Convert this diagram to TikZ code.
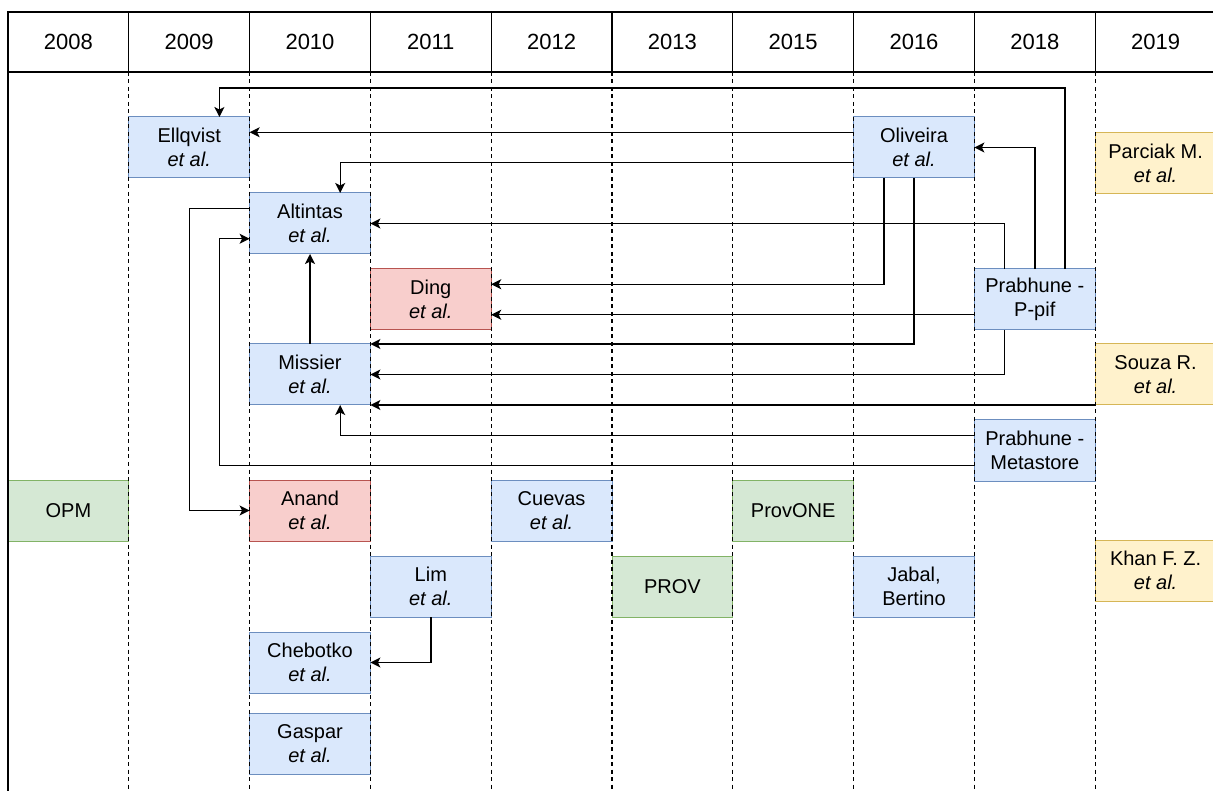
\documentclass[tikz,border=0pt]{standalone}
\usepackage{fontspec}
\setmainfont{Liberation Sans}
\usetikzlibrary{arrows.meta}

\definecolor{blueFill}{HTML}{DAE8FC}
\definecolor{blueLine}{HTML}{6C8EBF}
\definecolor{redFill}{HTML}{F8CECC}
\definecolor{redLine}{HTML}{B85450}
\definecolor{greenFill}{HTML}{D5E8D4}
\definecolor{greenLine}{HTML}{82B366}
\definecolor{yellowFill}{HTML}{FFF2CC}
\definecolor{yellowLine}{HTML}{D6B656}

\begin{document}
\begin{tikzpicture}
[
    x=1pt, y=-1pt,
    year/.style={draw, line width=1.3pt, anchor=north west, outer sep=0pt,
        minimum width=120.8pt, minimum height=60pt, font=\fontsize{22}{26}\selectfont},
    paper/.style={draw, line width=1pt, anchor=north west, outer sep=0pt, inner sep=0pt,
        minimum width=120.8pt, minimum height=61pt, align=center,
        font=\fontsize{20}{24}\selectfont},
    bluepaper/.style={paper, fill=blueFill, draw=blueLine},
    redpaper/.style={paper, fill=redFill, draw=redLine},
    greenpaper/.style={paper, fill=greenFill, draw=greenLine},
    yellowpaper/.style={paper, fill=yellowFill, draw=yellowLine},
    gridline/.style={line width=1.2pt, dash pattern=on 4pt off 3.5pt},
    link/.style={line width=1.4pt, -{Stealth[length=10pt, width=10pt, inset=2.5pt]}},
]
\clip (0,0) rectangle (1213,791);

% year header
\foreach \yr [count=\i from 0] in {2008,2009,2010,2011,2012,2013,2015,2016,2018,2019}
    \node[year] (y\yr) at ({8+120.8*\i},12) {\yr};

% papers
\node[bluepaper] (ellqvist) at (128.8,117) {Ellqvist\\\textit{et al.}};
\node[bluepaper] (oliveira) at (853.6,117) {Oliveira\\\textit{et al.}};
\node[yellowpaper] (parciak) at (1095.2,133) {Parciak M.\\\textit{et al.}};
\node[bluepaper] (altintas) at (249.6,193) {Altintas\\\textit{et al.}};
\node[redpaper] (ding) at (370.4,269) {Ding\\\textit{et al.}};
\node[bluepaper] (ppif) at (974.4,269) {Prabhune -\\P-pif};
\node[bluepaper] (missier) at (249.6,344) {Missier\\\textit{et al.}};
\node[yellowpaper] (souza) at (1095.2,344) {Souza R.\\\textit{et al.}};
\node[bluepaper] (metastore) at (974.4,420) {Prabhune -\\Metastore};
\node[greenpaper] (opm) at (8,480) {OPM};
\node[redpaper] (anand) at (249.6,480) {Anand\\\textit{et al.}};
\node[bluepaper] (cuevas) at (491.2,480) {Cuevas\\\textit{et al.}};
\node[greenpaper] (provone) at (732.8,480) {ProvONE};
\node[yellowpaper] (khan) at (1095.2,540) {Khan F. Z.\\\textit{et al.}};
\node[bluepaper] (lim) at (370.4,556) {Lim\\\textit{et al.}};
\node[greenpaper] (prov) at (612,556) {PROV};
\node[bluepaper] (jabal) at (853.6,556) {Jabal,\\Bertino};
\node[bluepaper] (chebotko) at (249.6,632) {Chebotko\\\textit{et al.}};
\node[bluepaper] (gaspar) at (249.6,713) {Gaspar\\\textit{et al.}};

% column lines
\draw[line width=1.3pt] (y2008.south west) -- ++(0,720);
\foreach \yr in {2009,2010,2011,2012,2013,2015,2016,2018,2019}
    \draw[gridline] (y\yr.south west) -- ++(0,720);

% lanes for long connectors
\coordinate (lane1) at (600,88);
\coordinate (laneA) at (219.4,350);
\coordinate (laneB) at (189.2,350);

% citations
\draw[link] ([xshift=30.2pt]ppif.north) |- (lane1) -| ([xshift=30.2pt]ellqvist.north);
\draw[link] ([yshift=15.25pt]oliveira.west) -- ([yshift=15.25pt]ellqvist.east);
\draw[link] ([yshift=-15.25pt]oliveira.west) -| ([xshift=30.2pt]altintas.north);
\draw[link] (ppif.north) |- (oliveira.east);
\draw[link] ([xshift=-30.2pt]ppif.north) |- (altintas.east);
\draw[link] ([xshift=-30.2pt]oliveira.south) |- ([yshift=15.25pt]ding.east);
\draw[link] (oliveira.south) |- (missier.north east);
\draw[link] ([yshift=-15.25pt]ppif.west) -- ([yshift=-15.25pt]ding.east);
\draw[link] ([xshift=-30.2pt]ppif.south) |- (missier.east);
\draw[link] (souza.south west) -- (missier.south east);
\draw[link] ([yshift=15.25pt]metastore.west) -| ([xshift=30.2pt]missier.south);
\draw[link] ([yshift=-15.25pt]metastore.west) -| (laneA) |- ([yshift=-15.25pt]altintas.west);
\draw[link] ([yshift=15.25pt]altintas.west) -| (laneB) |- (anand.west);
\draw[link] (missier.north) -- (altintas.south);
\draw[link] (lim.south) |- (chebotko.east);
\end{tikzpicture}
\end{document}
